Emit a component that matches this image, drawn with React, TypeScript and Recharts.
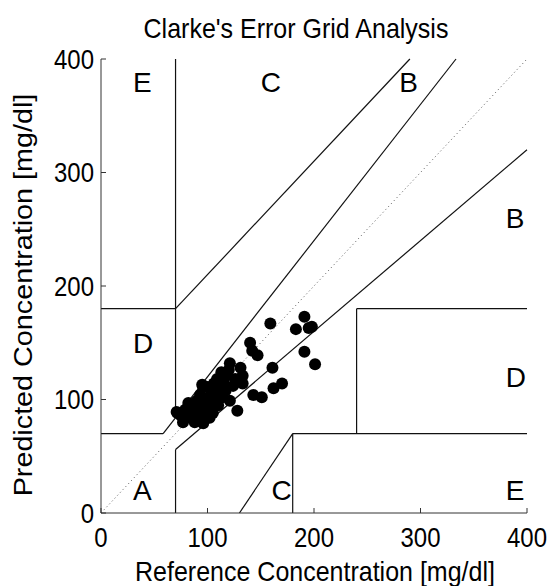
import { ScatterChart, Scatter, XAxis, YAxis, ReferenceLine } from 'recharts'

// reference / predicted glucose pairs
const reference = [
  191, 183, 195, 198, 191, 201, 159, 161, 170, 162, 151, 143, 128, 140, 142, 147,
  121, 131, 133, 133, 118, 115, 109, 95,
  72, 77, 84, 88, 96, 102, 105, 98, 90, 82, 93, 100, 96, 107, 114, 109, 116, 121,
  79, 86, 93, 91, 101, 107, 112, 75, 80, 85, 90, 95, 100, 104, 110, 117, 124, 103,
  88, 97, 71, 126, 120, 113, 83, 106,
]
const predicted = [
  173, 162, 163, 164, 142, 131, 167, 128, 114, 110, 102, 104, 90, 150, 143, 139,
  132, 128, 121, 114, 124, 114, 118, 113,
  88, 80, 84, 80, 79, 84, 88, 95, 99, 97, 104, 111, 111, 106, 102, 117, 119, 99,
  91, 89, 91, 84, 99, 99, 110, 86, 85, 92, 88, 86, 92, 94, 95, 108, 112, 104,
  93, 100, 89, 118, 126, 124, 90, 114,
]

// Clarke grid zone boundaries
const zoneLines = [
  [[0, 70], [175 / 3, 70]],
  [[175 / 3, 70], [400 / 1.2, 400]],
  [[70, 84], [70, 400]],
  [[0, 180], [70, 180]],
  [[70, 180], [290, 400]],
  [[70, 0], [70, 56]],
  [[70, 56], [400, 320]],
  [[180, 0], [180, 70]],
  [[180, 70], [400, 70]],
  [[240, 70], [240, 180]],
  [[240, 180], [400, 180]],
  [[130, 0], [180, 70]],
]

const zoneNames = ['A', 'D', 'E', 'C', 'C', 'E', 'D', 'B', 'B']
const zoneX = [30, 30, 30, 150, 160, 380, 380, 380, 280]
const zoneY = [20, 150, 380, 380, 20, 20, 120, 260, 380]

const axisTicks = [0, 100, 200, 300, 400]

const FONT = '"Liberation Sans", Arial, sans-serif'

const points = reference.map((x, i) => ({ x, y: predicted[i] }))
const zones = zoneNames.map((label, i) => ({ x: zoneX[i], y: zoneY[i], label }))

const XTick = ({ x, y, payload }: any) => (
  <g transform={`translate(${x},${y}) scale(1,1.12)`}>
    <text textAnchor="middle" dy={30} fontSize={24} fontFamily={FONT} fill="#000">
      {payload.value}
    </text>
  </g>
)

const YTick = ({ x, y, payload }: any) => (
  <g transform={`translate(${x},${y}) scale(1,1.12)`}>
    <text x={-7} textAnchor="end" dy={8.6} fontSize={24} fontFamily={FONT} fill="#000">
      {payload.value}
    </text>
  </g>
)

const textBox = (left: number, top: number, size: number, transform: string) => ({
  position: 'absolute' as const,
  left,
  top,
  fontFamily: FONT,
  fontSize: size,
  lineHeight: 1,
  whiteSpace: 'nowrap' as const,
  color: '#000',
  transform,
})

export default function App() {
  return (
    <div style={{ position: 'relative', width: 552, height: 586, overflow: 'hidden' }}>
      <style>{'body { margin: 0; }'}</style>
      <div style={textBox(296, 28, 25, 'translate(-50%,-50%) scale(1,1.12)')}>
        Clarke's Error Grid Analysis
      </div>
      <div style={textBox(315, 571, 25, 'translate(-50%,-50%) scale(1,1.12)')}>
        Reference Concentration [mg/dl]
      </div>
      <div style={textBox(23, 295, 25, 'translate(-50%,-50%) rotate(-90deg) scale(1.15,1)')}>
        Predicted Concentration [mg/dl]
      </div>

      <ScatterChart
        width={552}
        height={586}
        margin={{ top: 59, right: 25, bottom: 0, left: 0 }}
      >
        <XAxis
          type="number"
          dataKey="x"
          domain={[0, 400]}
          ticks={axisTicks}
          height={73}
          tickSize={-5}
          tickMargin={5}
          tick={<XTick />}
          stroke="#333"
          allowDataOverflow
        />
        <XAxis
          xAxisId="top"
          orientation="top"
          type="number"
          domain={[0, 400]}
          ticks={axisTicks}
          height={0}
          tickSize={-5}
          tick={false}
          stroke="#333"
        />
        <YAxis
          type="number"
          dataKey="y"
          domain={[0, 400]}
          ticks={axisTicks}
          width={101}
          tickSize={-5}
          tickMargin={5}
          tick={<YTick />}
          stroke="#333"
          allowDataOverflow
        />
        <YAxis
          yAxisId="right"
          orientation="right"
          type="number"
          domain={[0, 400]}
          ticks={axisTicks}
          width={0}
          tickSize={-5}
          tick={false}
          stroke="#333"
        />

        <ReferenceLine
          segment={[{ x: 0, y: 0 }, { x: 400, y: 400 }]}
          stroke="#555"
          strokeDasharray="1 3"
        />
        {zoneLines.map((seg, i) => (
          <ReferenceLine
            key={i}
            segment={[{ x: seg[0][0], y: seg[0][1] }, { x: seg[1][0], y: seg[1][1] }]}
            stroke="#111"
            strokeWidth={1.2}
          />
        ))}

        <Scatter
          data={zones}
          isAnimationActive={false}
          shape={(p: any) => (
            <text x={p.cx} y={p.cy + 10} fontSize={28} fontFamily={FONT} fill="#000">
              {p.payload.label}
            </text>
          )}
        />
        <Scatter
          data={points}
          isAnimationActive={false}
          shape={(p: any) => <circle cx={p.cx} cy={p.cy} r={6} fill="#000" />}
        />
      </ScatterChart>
    </div>
  )
}
